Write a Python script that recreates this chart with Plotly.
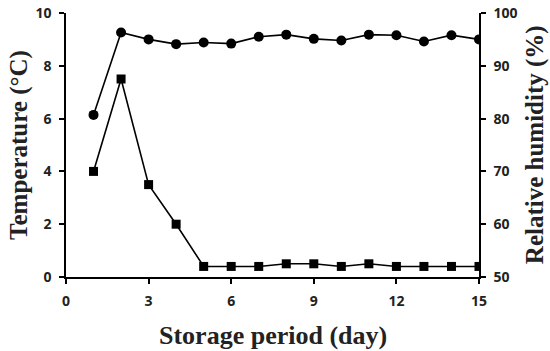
import plotly.graph_objects as go

days = list(range(1, 16))
temperature = [4.0, 7.5, 3.5, 2.0, 0.4, 0.4, 0.4, 0.5, 0.5, 0.4, 0.5, 0.4, 0.4, 0.4, 0.4]
humidity = [80.7, 96.3, 95.0, 94.1, 94.4, 94.2, 95.5, 95.9, 95.1, 94.8, 95.9, 95.8, 94.6, 95.8, 95.0]

x_ticks = [0, 3, 6, 9, 12, 15]
y_ticks = [0, 2, 4, 6, 8, 10]
y2_ticks = [50, 60, 70, 80, 90, 100]

tickfont = dict(family="Open Sans", size=14, color="#222", weight="bold")
titlefont = dict(family="Liberation Serif", size=26, color="#222", weight="bold")
vtitlefont = dict(family="Liberation Serif", size=25, color="#222", weight="bold")

fig = go.Figure()
fig.add_trace(go.Scatter(x=days, y=temperature, mode="lines+markers",
                         line=dict(color="black", width=1.6),
                         marker=dict(symbol="square", size=9, color="black"),
                         showlegend=False))
fig.add_trace(go.Scatter(x=days, y=humidity, mode="lines+markers", yaxis="y2",
                         line=dict(color="black", width=1.6),
                         marker=dict(symbol="circle", size=10, color="black"),
                         showlegend=False))

axis_common = dict(showline=True, linecolor="black", linewidth=1.6, ticks="outside",
                   ticklen=5, tickwidth=1.5, tickcolor="black", showgrid=False,
                   zeroline=False, tickfont=tickfont, automargin=False,
                   ticklabeloverflow="allow", ticklabelstandoff=5)

fig.update_layout(
    width=550, height=351,
    margin=dict(l=66, r=71, t=13, b=74),
    plot_bgcolor="white", paper_bgcolor="white",
    xaxis=dict(range=[0, 15], tickvals=x_ticks, **axis_common),
    yaxis=dict(range=[0, 10], tickvals=y_ticks, **axis_common),
    yaxis2=dict(range=[50, 100], tickvals=y2_ticks, overlaying="y", side="right",
                **axis_common),
    annotations=[
        dict(text="Storage period (day)", xref="paper", yref="paper", x=0.5, y=-0.22,
             showarrow=False, font=titlefont, xanchor="center", yanchor="middle"),
        dict(text="Temperature (°C)", xref="paper", yref="paper", x=-0.114, y=0.5,
             showarrow=False, font=vtitlefont, textangle=-90, xanchor="center", yanchor="middle"),
        dict(text="Relative humidity (%)", xref="paper", yref="paper", x=1.136, y=0.5,
             showarrow=False, font=vtitlefont, textangle=-90, xanchor="center", yanchor="middle"),
    ],
)

fig.write_html("out.html", config={"displayModeBar": False},
               post_script="document.body.style.margin='0';")
